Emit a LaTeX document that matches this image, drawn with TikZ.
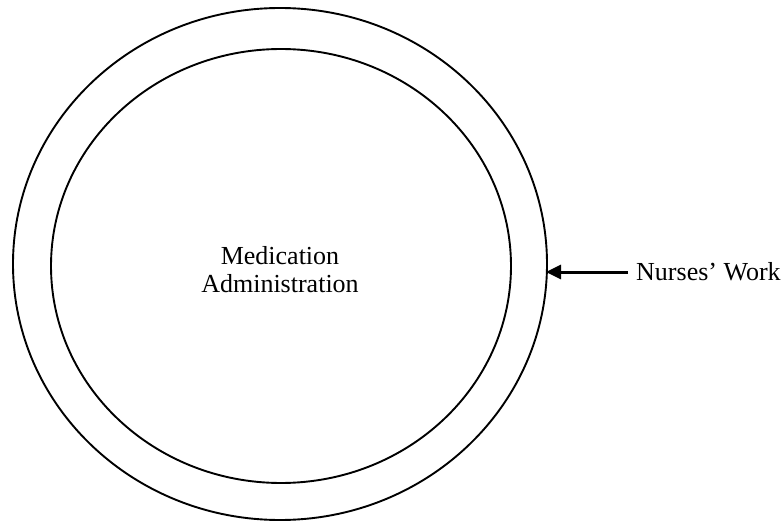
\documentclass[tikz,border=0pt]{standalone}
\usepackage{fontspec}
\setmainfont{Liberation Serif}
\usetikzlibrary{shapes.geometric,arrows.meta}
\tikzset{
  ring/.style={draw, ellipse, line width=1.9pt, inner sep=0pt, outer sep=0pt},
  lbl/.style={font=\fontsize{26}{28}\selectfont, inner sep=0pt, align=center},
  pointer/.style={line width=3pt, -{Triangle[length=15pt,width=14pt]}}
}
\begin{document}
\begin{tikzpicture}[x=1pt,y=-1pt]
\useasboundingbox (0,0) rectangle (782,524);
\node[ring, minimum width=534pt, minimum height=512pt] (outer) at (280,264) {};
\node[ring, minimum width=460pt, minimum height=434pt] (inner) at (281,266) {};
\node[lbl] (center) at (280,270) {Medication\\Administration};
\node[lbl, anchor=west] (nw) at (636,272) {Nurses’ Work};
\coordinate (tip) at ([xshift=-1pt]outer.east |- nw.west);
\draw[pointer] ([xshift=-8pt]nw.west) -- (tip);
\end{tikzpicture}
\end{document}
